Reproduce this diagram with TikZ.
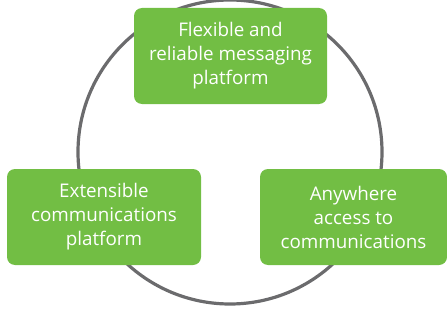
\documentclass[tikz,border=0pt]{standalone}
\usepackage{fontspec}
\setmainfont{Open Sans}
\usetikzlibrary{positioning}
\definecolor{boxgreen}{HTML}{72BE44}
\definecolor{ringgray}{HTML}{6B6B6D}

\begin{document}
\begin{tikzpicture}[x=1pt, y=1pt, style={align=center},
	greenbox/.style={fill=boxgreen, text=white, rounded corners=8pt, minimum height=96pt, inner sep=0pt, font=\fontsize{18.8}{24}\selectfont}]
	\useasboundingbox (0,0) rectangle (447,322);
	\coordinate (C) at (230,170);
	\draw[ringgray, line width=3.2pt] (C) circle (152);
	\node[greenbox, minimum width=193pt] (flex) at (230.5,266) {Flexible and\\reliable messaging\\platform};
	\node[greenbox, minimum width=194pt] (ext) at (104,105) {Extensible\\communications\\platform};
	\node[greenbox, minimum width=187pt] (any) at (353.5,105) {Anywhere\\access to\\communications};
\end{tikzpicture}
\end{document}
